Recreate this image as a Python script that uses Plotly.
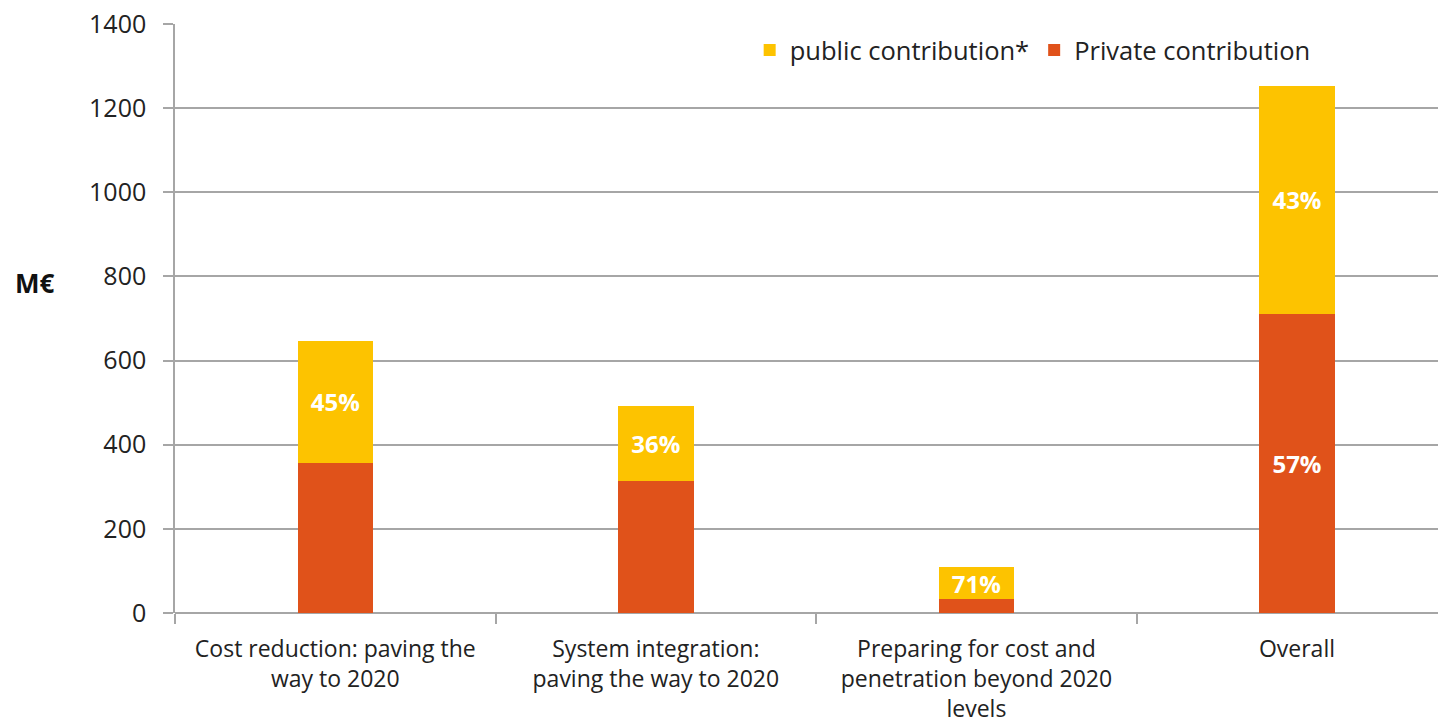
import plotly.graph_objects as go

categories = [
    "Cost reduction: paving the<br>way to 2020",
    "System integration:<br>paving the way to 2020",
    "Preparing for cost and<br>penetration beyond 2020<br>levels",
    "Overall",
]
private = [357, 314, 33, 711]
public = [290, 178, 76, 542]
private_labels = ["", "", "", "57%"]
public_labels = ["45%", "36%", "71%", "43%"]
y_ticks = [0, 200, 400, 600, 800, 1000, 1200, 1400]

ORANGE = "#E0521A"
YELLOW = "#FDC300"
GRID = "#A6A6A6"
FONT = "Open Sans, Lato, sans-serif"

fig = go.Figure()
fig.add_trace(go.Bar(
    x=categories, y=private, name="Private contribution",
    marker=dict(color=ORANGE, line=dict(width=0)),
    text=private_labels, textposition="inside", insidetextanchor="middle",
    textfont=dict(color="white", size=24, family=FONT, weight="bold"),
    constraintext="none", width=0.235, legendrank=2,
))
fig.add_trace(go.Bar(
    x=categories, y=public, name="public contribution*",
    marker=dict(color=YELLOW, line=dict(width=0)),
    text=public_labels, textposition="inside", insidetextanchor="middle",
    textfont=dict(color="white", size=24, family=FONT, weight="bold"),
    constraintext="none", width=0.235, legendrank=1,
))

fig.update_layout(
    barmode="stack",
    width=1438, height=727,
    margin=dict(l=175, r=0, t=24, b=114, autoexpand=False),
    plot_bgcolor="white", paper_bgcolor="white",
    font=dict(family=FONT, size=24, color="#222222"),
    uniformtext=dict(mode=False),
    legend=dict(
        orientation="h", x=0.455, y=0.995, xanchor="left", yanchor="top",
        font=dict(size=25.5, family=FONT), bgcolor="rgba(0,0,0,0)",
        itemwidth=30, traceorder="normal",
    ),
    xaxis=dict(
        range=[-0.5, 3.44], showgrid=False, automargin=False,
        showline=False, ticks="outside", tickson="boundaries",
        ticklen=10, tickcolor=GRID, tickwidth=1.5,
        tickfont=dict(size=23, family=FONT), ticklabelstandoff=20,
    ),
    yaxis=dict(
        range=[0, 1400], tickvals=y_ticks, showgrid=True, gridcolor=GRID,
        gridwidth=1.5, showline=True, linecolor=GRID, linewidth=1.5,
        ticks="outside", ticklen=10, tickcolor=GRID, tickwidth=1.5,
        tickfont=dict(size=25, family=FONT), zeroline=True, automargin=False,
        zerolinecolor=GRID, zerolinewidth=1.5, ticklabelstandoff=12,
    ),
    annotations=[dict(
        text="<b>M€</b>", xref="paper", yref="paper", x=-0.111, y=0.56,
        xanchor="center", yanchor="middle", showarrow=False,
        font=dict(size=26, family=FONT, color="#111111"),
    )],
)

fig.write_html("out.html")
